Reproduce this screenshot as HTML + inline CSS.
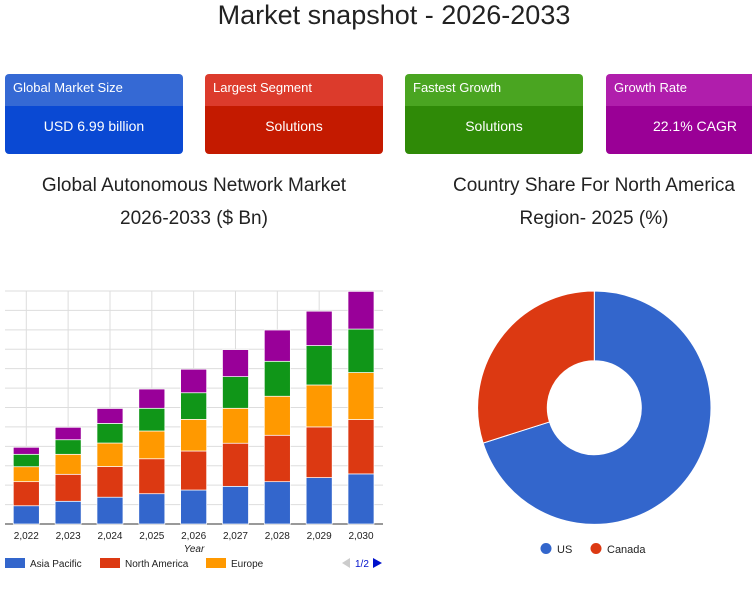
<!DOCTYPE html>
<html><head><meta charset="utf-8"><style>
body{margin:0;width:752px;height:589px;background:#fff;font-family:"Liberation Sans",sans-serif;position:relative;overflow:hidden}
.abs{position:absolute}
.card{position:absolute;top:74px;width:178px;height:80px;border-radius:4px;overflow:hidden;color:#fff}
.card .h{height:32px;line-height:28px;font-size:13px;padding-left:8px}
.card .v{height:48px;line-height:40px;font-size:14px;text-align:center}
.t{position:absolute;font-size:19px;color:#222;text-align:center}
</style></head><body>
<div class="abs" style="left:0;width:788px;top:0;text-align:center;font-size:27px;color:#222;line-height:30px">Market snapshot - 2026-2033</div>

<div class="card" style="left:5px"><div class="h" style="background:#3569d4">Global Market Size</div><div class="v" style="background:#0a49d3">USD 6.99 billion</div></div>
<div class="card" style="left:205px"><div class="h" style="background:#dc3b2c">Largest Segment</div><div class="v" style="background:#c41a00">Solutions</div></div>
<div class="card" style="left:405px"><div class="h" style="background:#4aa521">Fastest Growth</div><div class="v" style="background:#2f8a07">Solutions</div></div>
<div class="card" style="left:606px"><div class="h" style="background:#b01eac">Growth Rate</div><div class="v" style="background:#9a0096">22.1% CAGR</div></div>

<div class="t" style="left:0;width:388px;top:169px;line-height:33px">Global Autonomous Network Market<br>2026-2033 ($ Bn)</div>
<div class="t" style="left:440px;width:308px;top:169px;line-height:33px">Country Share For North America<br>Region- 2025 (%)</div>

<svg id="bar" class="abs" style="left:0;top:0" width="400" height="589"></svg>
<svg id="pie" class="abs" style="left:440px;top:0" width="312" height="589"></svg>

<script>
const years=["2,022","2,023","2,024","2,025","2,026","2,027","2,028","2,029","2,030"];
const asiaPacific=[0.94,1.17,1.38,1.56,1.75,1.94,2.18,2.39,2.58];
const northAmerica=[1.24,1.39,1.58,1.80,2.01,2.22,2.39,2.61,2.80];
const europe=[0.77,1.03,1.21,1.43,1.63,1.80,2.01,2.16,2.42];
const other1=[0.64,0.75,1.01,1.17,1.37,1.63,1.80,2.03,2.24];
const other2=[0.36,0.64,0.77,0.99,1.21,1.39,1.61,1.77,1.94];
const yMax=12;
const shareLabels=["US","Canada"];
const shareValues=[70.1,29.9];

const NS="http://www.w3.org/2000/svg";
function mk(p,t,a){const e=document.createElementNS(NS,t);for(const k in a)e.setAttribute(k,a[k]);p.appendChild(e);return e;}
const bar=document.getElementById('bar');
const L=5,R=383,B=524,T=291;
const y=v=>B-(v/yMax)*(B-T);
const step=(361-26.3)/8;
const x=i=>26.3+i*step;
for(let g=0;g<=yMax;g++){const l=mk(bar,'line',{x1:L,x2:R,y1:y(g),y2:y(g),stroke:g==0?'#333':'#ddd','stroke-width':1});

}
for(let i=0;i<years.length;i++){const l=mk(bar,'line',{x1:x(i),x2:x(i),y1:T,y2:B,stroke:'#ddd'});

}
mk(bar,'line',{x1:L,x2:R,y1:B,y2:B,stroke:'#333'});
const series=[asiaPacific,northAmerica,europe,other1,other2];
const cols=['#3366cc','#dc3912','#ff9900','#109618','#990099'];
const bw=26;
years.forEach((yr,i)=>{let acc=0;series.forEach((s,k)=>{const r=mk(bar,'rect',{x:x(i)-bw/2,y:y(acc+s[i]),width:bw,height:y(acc)-y(acc+s[i]),fill:cols[k],stroke:'#fff','stroke-width':0.7});


acc+=s[i];});
const t=mk(bar,'text',{x:x(i),y:539,'text-anchor':'middle','font-size':10,fill:'#222','font-family':'Liberation Sans'});t.textContent=yr;

});
const xt=mk(bar,'text',{x:194,y:552,'text-anchor':'middle','font-size':10,'font-style':'italic',fill:'#222'});xt.textContent='Year';


const leg=[['Asia Pacific',5,'#3366cc'],['North America',100,'#dc3912'],['Europe',206,'#ff9900']];
leg.forEach(l=>{const g=mk(bar,'g',{});


mk(g,'rect',{x:l[1],y:558,width:20,height:10,fill:l[2]});const t=mk(g,'text',{x:l[1]+25,y:567,'font-size':10,fill:'#222'});t.textContent=l[0];});
mk(bar,'path',{d:'M342 563 L350 558 L350 568Z',fill:'#ccc'});
const pg=mk(bar,'text',{x:355,y:567,'font-size':10,fill:'#0011cc'});pg.textContent='1/2';


const nx=mk(bar,'path',{d:'M373 558 L382 563 L373 568Z',fill:'#0011cc'});



const pie=document.getElementById('pie');
const cx=154.3,cy=407.7,ro=116.7,ri=47;
const tot=shareValues.reduce((a,b)=>a+b,0);
let a0=0;const pc=['#3366cc','#dc3912'];
shareValues.forEach((v,i)=>{const a1=a0+v/tot*2*Math.PI;
const p=(a,r)=>[cx+r*Math.sin(a),cy-r*Math.cos(a)];
const [x0,y0]=p(a0,ro),[x1,y1]=p(a1,ro),[x2,y2]=p(a1,ri),[x3,y3]=p(a0,ri);const lg=(a1-a0)>Math.PI?1:0;
const s=mk(pie,'path',{d:`M${x0} ${y0} A${ro} ${ro} 0 ${lg} 1 ${x1} ${y1} L${x2} ${y2} A${ri} ${ri} 0 ${lg} 0 ${x3} ${y3}Z`,fill:pc[i],stroke:'#fff','stroke-width':1});


a0=a1;});
[[106,0],[156,1]].forEach(([lx,i])=>{const g=mk(pie,'g',{});


mk(g,'circle',{cx:lx,cy:548.5,r:5.5,fill:pc[i]});const t=mk(g,'text',{x:lx+11,y:553,'font-size':11,fill:'#222'});t.textContent=shareLabels[i];});
</script>
</body></html>
